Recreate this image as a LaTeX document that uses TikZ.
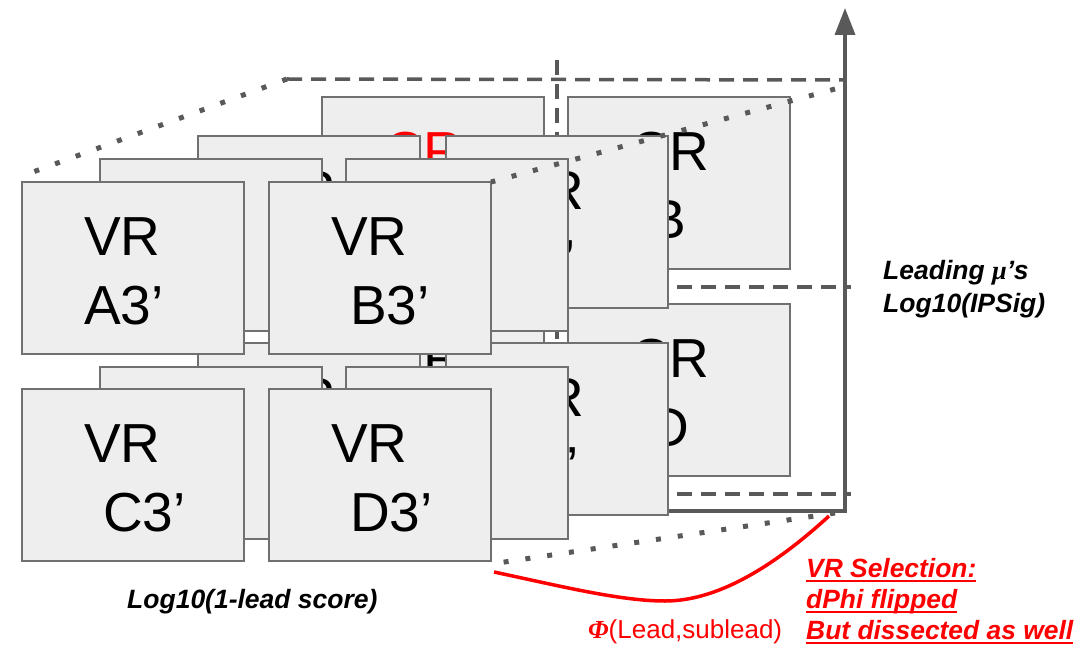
\documentclass[tikz,border=0pt]{standalone}
\usepackage{fontspec}
\setmainfont{Liberation Sans}
\newfontfamily\greekfont{Liberation Serif}
\usetikzlibrary{arrows.meta,calc}
\definecolor{boxfill}{HTML}{EEEEEE}
\definecolor{boxline}{HTML}{707070}
\definecolor{axisgray}{HTML}{595959}
\definecolor{pured}{HTML}{FF0000}
\newcommand\myul[1]{\setbox0=\hbox{#1}\rlap{\vrule height -2.5pt depth 4.5pt width \wd0}\box0}
\newcommand\regbox[3]{\node[regbox] (#1) at (#2,#3) {};}
\newcommand\toptext[3][black]{\node[boxtxt,text=#1] (#2-l1) at ($(#2.north west)+(62,73.5)$) {#3};}
\newcommand\bottext[3]{\node[boxtxt] (#1-l2) at ($(#1.north west)+(62+#2,142)$) {#3};}
\tikzset{
  regbox/.style={draw=boxline, fill=boxfill, line width=1.5pt, minimum width=222pt,
    minimum height=172pt, inner sep=0pt, outer sep=0pt, anchor=north west},
  boxtxt/.style={anchor=base west, inner sep=0pt, font=\fontsize{55}{66}\selectfont},
  dashline/.style={draw=axisgray, line width=3.5pt, dash pattern=on 15pt off 9pt},
  dotline/.style={draw=axisgray, line width=5pt, dash pattern=on 5pt off 17pt},
  axisline/.style={draw=axisgray, line width=3.5pt, -{Triangle[length=27pt,width=20pt]}},
  redcurve/.style={draw=pured, line width=3.5pt},
  axislabel/.style={anchor=base west, inner sep=0pt, font=\fontsize{26.5}{30}\selectfont\bfseries\itshape},
  redlabel/.style={anchor=base west, inner sep=0pt, text=pured, font=\fontsize{26.4}{30}\selectfont\bfseries\itshape},
  philabel/.style={anchor=base west, inner sep=0pt, text=pured, font=\fontsize{26}{30}\selectfont}
}
\begin{document}
\begin{tikzpicture}[x=1pt,y=-1pt]
\useasboundingbox (0,0) rectangle (1086,660);
% layer 0 : control regions
\regbox{cra}{322}{97}
\toptext[pured]{cra}{CR}
\regbox{crb}{568}{97}
\toptext{crb}{CR}
\bottext{crb}{19}{B}
\regbox{crc}{322}{304}
\toptext{crc}{CR}
\regbox{crd}{568}{304}
\toptext{crd}{CR}
\bottext{crd}{19}{D}
% axes and dashed frame
\coordinate (backtl) at (287,79);
\coordinate (toprt) at (845,80);
\coordinate (vtop) at (557,60);
\coordinate (vbot) at (557,494);
\coordinate (midl) at (557,287);
\coordinate (midr) at (851,287);
\coordinate (botr) at (851,494);
\coordinate (axl) at (557,511);
\coordinate (corner) at (845,511);
\coordinate (axtop) at (845,8);
\draw[dashline] (backtl) -- (toprt);
\draw[dashline] (vtop) -- (vbot);
\draw[dashline] (midl) -- (midr);
\draw[dashline] (vbot) -- (botr);
\draw[axisline] (axl) -- (corner) -- (axtop);
% layer 1
\regbox{a1}{198}{136}
\toptext{a1}{VR}
\regbox{b1}{446}{136}
\toptext{b1}{VR}
\bottext{b1}{19}{B’}
\regbox{c1}{198}{343}
\toptext{c1}{VR}
\regbox{d1}{446}{343}
\toptext{d1}{VR}
\bottext{d1}{19}{D’}
% layer 2
\regbox{a2}{100}{159}
\regbox{b2}{346}{159}
\regbox{c2}{100}{367}
\regbox{d2}{346}{367}
% layer 3 : front
\regbox{a3}{22}{182}
\toptext{a3}{VR}
\bottext{a3}{0}{A3’}
\regbox{b3}{269}{182}
\toptext{b3}{VR}
\bottext{b3}{19}{B3’}
\regbox{c3}{22}{389}
\toptext{c3}{VR}
\bottext{c3}{19}{C3’}
\regbox{d3}{269}{389}
\toptext{d3}{VR}
\bottext{d3}{19}{D3’}
% dotted receding edges
\coordinate (dtr) at (835,89);
\coordinate (fronttl) at (22,176);
\coordinate (dbr) at (835,513);
\coordinate (dbl) at (491,564);
\draw[dotline] (backtl) -- (fronttl);
\draw[dotline] (dtr) -- (b3.north east);
\draw[dotline] (dbr) -- (dbl);
% red phi curve
\coordinate (redstart) at (494,572);
\coordinate (redmid) at (665,601);
\coordinate (redend) at (829,516);
\draw[redcurve] (redstart) .. controls (560,586) and (620,601) .. (redmid)
  .. controls (715,601) and (770,570) .. (redend);
% labels
\node[axislabel] (ylab1) at (883,279) {Leading {\greekfont μ}’s};
\node[axislabel] (ylab2) at (883,312) {Log10(IPSig)};
\node[axislabel] (xlab) at (127,608) {Log10(1-lead score)};
\node[philabel] (philab) at (588,638) {{\greekfont\bfseries\itshape Φ}(Lead,sublead)};
\node[redlabel] (sel1) at (806,577) {\myul{VR Selection:}};
\node[redlabel] (sel2) at (806,608) {\myul{dPhi flipped}};
\node[redlabel] (sel3) at (806,639) {\myul{But dissected as well}};
\end{tikzpicture}
\end{document}
